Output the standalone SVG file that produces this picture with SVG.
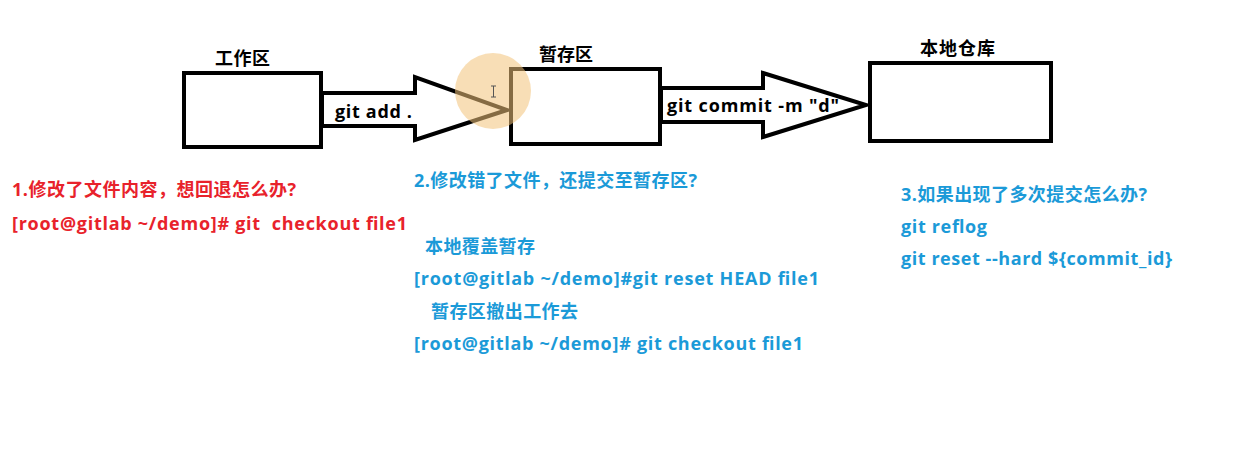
<svg xmlns="http://www.w3.org/2000/svg" width="1241" height="449" viewBox="0 0 1241 449">
<style>
.box{fill:#fff;stroke:#000;stroke-width:4}
.arrow{fill:#fff;stroke:#000;stroke-width:4;stroke-linejoin:miter}
text{font-family:"Open Sans","Noto Sans CJK SC","Noto Sans",sans-serif;font-weight:bold;font-size:18px}
.lbl{fill:#000}
.red{fill:#e8222b}
.blue{fill:#1b9ad8}
</style>
<rect width="1241" height="449" fill="#fff"/>
<g id="connectors">
<polygon class="arrow" points="322,93 415,93 415,77 507,110 415,140 415,126 322,126"/>
<text class="lbl" x="335" y="118" textLength="77">git add .</text>
<polygon class="arrow" points="661,88 763,88 763,73 866,105 763,137 763,122 661,122"/>
<text class="lbl" x="667" y="112" textLength="172">git commit -m "d"</text>
</g>
<g id="node-workspace">
<rect class="box" x="184" y="73" width="137" height="74"/>
<text class="lbl" x="215" y="65" textLength="55">工作区</text>
</g>
<g id="node-stage">
<rect class="box" x="511" y="69" width="149" height="75"/>
<text class="lbl" x="539" y="61" textLength="54">暂存区</text>
</g>
<g id="node-repo">
<rect class="box" x="870" y="63" width="181" height="78"/>
<text class="lbl" x="920" y="55" textLength="75">本地仓库</text>
</g>
<g id="cursor-highlight">
<circle cx="493" cy="91" r="38" fill="#f3c27a" fill-opacity="0.55"/>
<path d="M491,86 h5 M493.5,86 v11 M491,97 h5" stroke="#555" stroke-width="1" fill="none"/>
</g>
<g id="note-1">
<text class="red" x="12" y="196" textLength="284">1.修改了文件内容，想回退怎么办?</text>
<text class="red" x="12" y="230" textLength="395" xml:space="preserve">[root@gitlab ~/demo]# git  checkout file1</text>
</g>
<g id="note-2">
<text class="blue" x="414" y="187" textLength="283">2.修改错了文件，还提交至暂存区?</text>
<text class="blue" x="425" y="253" textLength="110">本地覆盖暂存</text>
<text class="blue" x="414" y="285" textLength="405">[root@gitlab ~/demo]#git reset HEAD file1</text>
<text class="blue" x="431" y="318" textLength="147">暂存区撤出工作去</text>
<text class="blue" x="414" y="350" textLength="389">[root@gitlab ~/demo]# git checkout file1</text>
</g>
<g id="note-3">
<text class="blue" x="901" y="201" textLength="246">3.如果出现了多次提交怎么办?</text>
<text class="blue" x="901" y="233" textLength="86">git reflog</text>
<text class="blue" x="901" y="265" textLength="271">git reset --hard ${commit_id}</text>
</g>
</svg>
